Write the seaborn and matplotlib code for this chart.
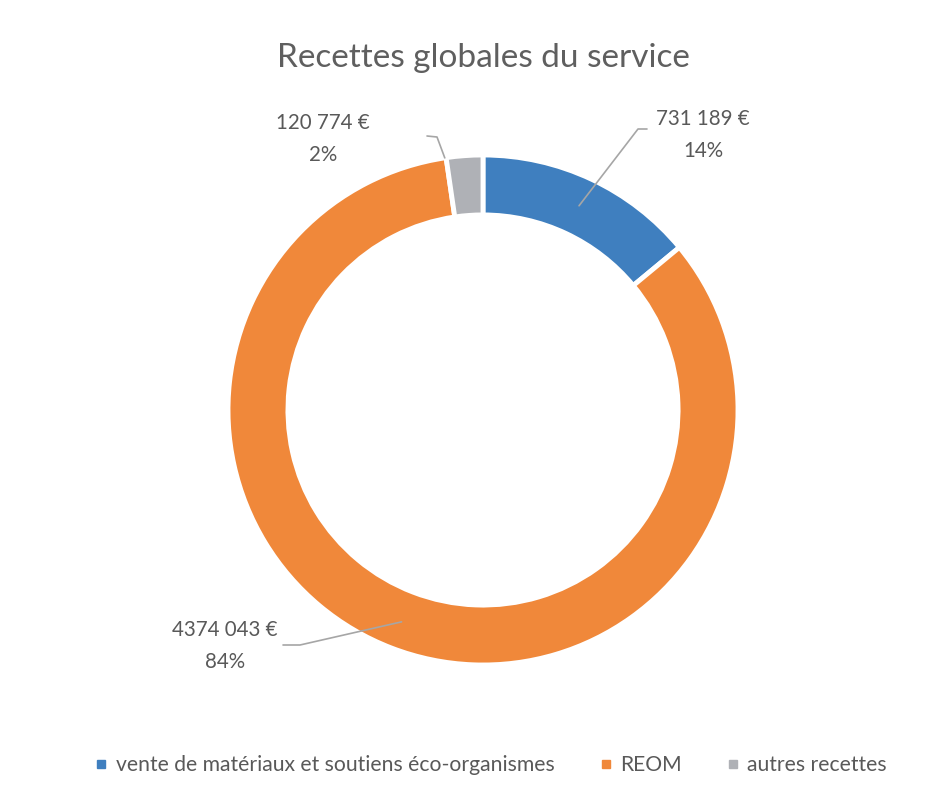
import numpy as np
import matplotlib
matplotlib.use('Agg')
import matplotlib.pyplot as plt
from matplotlib.lines import Line2D
import seaborn as sns

# data
categories = ['vente de matériaux et soutiens éco-organismes', 'REOM', 'autres recettes']
values = [731189, 4374043, 120774]
value_labels = ['731 189 €', '4374 043 €', '120 774 €']
pct_labels = ['14%', '84%', '2%']
colors = ['#3f7fbf', '#f0883a', '#afb1b6']

sns.set_theme(style='white')
plt.rcParams['font.family'] = ['Lato', 'DejaVu Sans']
TXT = '#595959'

W, H = 945, 795
CX, CY, R = 483, 410, 255   # donut centre and radius in pixels

fig = plt.figure(figsize=(W / 100, H / 100), dpi=100)
fig.patch.set_facecolor('white')
ax = fig.add_axes([0, 0, 1, 1])

wedges, _ = ax.pie(values, colors=colors, startangle=90, counterclock=False,
                   radius=1.0, wedgeprops=dict(width=0.235, edgecolor='white', linewidth=3.5))

# pie() autoscales, so fix the limits afterwards
ax.set_xlim(-CX / R, (W - CX) / R)
ax.set_ylim(-(H - CY) / R, CY / R)
ax.set_aspect('equal')
ax.axis('off')

# label positions (pixels) : text centre, elbow, end of leader line
label_pos = [(703, 135), (225, 646), (323, 139)]
elbows = [((647, 129), (638, 129)), ((283, 645), (300, 645)), ((427, 136), (437, 137))]
tip_r = [0.885, 0.89, 1.0]


def to_data(px, py):
    return (px - CX) / R, (CY - py) / R


for i, w in enumerate(wedges):
    if i == 2:
        ang = np.deg2rad(w.theta2 + 0.3)
    else:
        ang = np.deg2rad((w.theta1 + w.theta2) / 2)
    tip = (tip_r[i] * np.cos(ang), tip_r[i] * np.sin(ang))
    p0 = to_data(*elbows[i][0])
    p1 = to_data(*elbows[i][1])
    ax.plot([p0[0], p1[0], tip[0]], [p0[1], p1[1], tip[1]],
            color='#a6a6a6', linewidth=1.2, zorder=5)
    tx, ty = to_data(*label_pos[i])
    ax.text(tx, ty, f'{value_labels[i]}\n{pct_labels[i]}', ha='center', va='center',
            fontsize=14.8, color=TXT, linespacing=1.75)

fig.text(CX / W, 1 - 58 / H, 'Recettes globales du service', ha='center', va='center',
         fontsize=24, color='#5f5f5f')

handles = [Line2D([0], [0], marker='s', linestyle='none', markersize=6,
                  markerfacecolor=c, markeredgecolor=c) for c in colors]
fig.legend(handles, categories, loc='center', bbox_to_anchor=(490 / W, 1 - 765 / H),
           ncol=3, frameon=False, fontsize=15.2, handletextpad=0.3, columnspacing=2.0,
           labelcolor=TXT, handlelength=0.8)

fig.savefig('out.png', dpi=100, facecolor='white')
